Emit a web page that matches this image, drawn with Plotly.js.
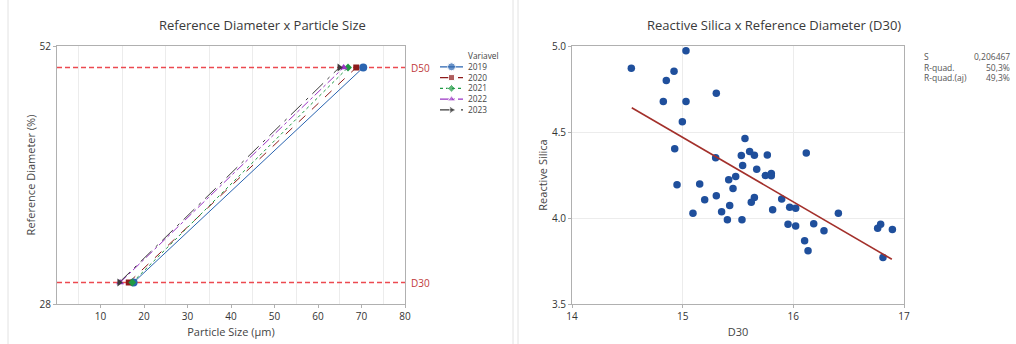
<!DOCTYPE html>
<html>
<head>
<meta charset="utf-8">
<script src="https://cdn.plot.ly/plotly-3.0.1.min.js"></script>
<style>html,body{margin:0;padding:0;background:#fff;}#chart{width:1016px;height:344px;}</style>
</head>
<body>
<div id="chart"></div>
<script>
// ---- Left chart data ----
const years = ['2019', '2020', '2021', '2022', '2023'];
const legendTitle = 'Variavel';
const refLevels = [30, 50];
const refLabels = ['D30', 'D50'];
const sizeRange = [0, 80];
const d30Size = [17.6, 16.5, 17.3, 14.5, 14.3];
const d50Size = [70.4, 68.8, 66.9, 65.9, 64.9];

// ---- Right chart data ----
const d30 = [14.536, 14.852, 14.922, 14.825, 15.030, 15.030, 14.997, 15.304, 14.928, 14.949,
             15.154, 15.199, 15.093, 15.298, 15.304, 15.352, 15.404, 15.425, 15.416, 15.455,
             15.479, 15.530, 15.542, 15.563, 15.605, 15.648, 15.669, 15.765, 15.747, 15.801,
             15.801, 15.648, 15.620, 15.536, 15.813, 15.895, 15.967, 16.021, 15.952, 16.021,
             16.117, 16.102, 16.133, 16.184, 16.277, 16.407, 16.762, 16.789, 16.895, 16.810];
const silica = [4.870, 4.799, 4.853, 4.677, 4.973, 4.677, 4.559, 4.725, 4.402, 4.193,
                4.197, 4.106, 4.028, 4.350, 4.130, 4.036, 3.990, 4.073, 4.222, 4.172,
                4.241, 4.363, 4.305, 4.462, 4.386, 4.365, 4.284, 4.367, 4.247, 4.259,
                4.245, 4.119, 4.092, 3.990, 4.048, 4.110, 4.063, 4.057, 3.963, 3.953,
                4.378, 3.868, 3.810, 3.967, 3.926, 4.028, 3.941, 3.964, 3.933, 3.771];
const fitX = [14.54, 16.89];
const fitY = [4.641, 3.760];
const statLabels = ['S', 'R-quad.', 'R-quad.(aj)'];
const statValues = ['0,206467', '50,3%', '49,3%'];

// ---- styles ----
const W = 1016, H = 344;
const px = v => v / W, py = v => 1 - v / H;
const FONT = 'Open Sans, Noto Sans, sans-serif';
const colors = ['#2a64b0', '#8e1b1b', '#1f9a44', '#9a35c4', '#3b3b3b'];
const dashes = ['solid', 'dash', 'dot', 'dashdot', 'longdashdot'];
const symbols = ['circle', 'square', 'diamond', 'triangle-up', 'triangle-right'];
const msizes = [8, 6, 6, 7, 7];
const LEG_FS = 8.3, LEG_LH = LEG_FS * 1.3;

const traces = [];
years.forEach((yr, i) => {
  traces.push({
    type: 'scatter', mode: 'lines', name: yr,
    x: [d30Size[i], d50Size[i]], y: refLevels.slice(),
    xaxis: 'x', yaxis: 'y', showlegend: false,
    line: {color: colors[i], width: 1, dash: dashes[i]}
  });
});
// reference lines D30 / D50
refLevels.forEach(v => traces.push({
  type: 'scatter', mode: 'lines', x: sizeRange.slice(), y: [v, v], xaxis: 'x', yaxis: 'y',
  showlegend: false, line: {color: '#ec4a50', width: 1.5, dash: '5px,3px'}
}));
// series markers on top
years.forEach((yr, i) => {
  traces.push({
    type: 'scatter', mode: 'markers', name: yr,
    x: [d30Size[i], d50Size[i]], y: refLevels.slice(),
    xaxis: 'x', yaxis: 'y', showlegend: false,
    marker: {color: colors[i], symbol: symbols[i], size: msizes[i]}
  });
  // compact legend glyph (index-based position on a hidden legend axis)
  traces.push({
    type: 'scatter', mode: 'lines+markers', name: yr,
    x: [0, 0.5, 1], y: [i, i, i], xaxis: 'x3', yaxis: 'y3', showlegend: false,
    line: {color: colors[i], width: 1.2, dash: dashes[i]},
    marker: {color: colors[i], symbol: symbols[i], size: [0, msizes[i], 0]}
  });
});

traces.push({
  type: 'scatter', mode: 'markers', x: d30, y: silica, xaxis: 'x2', yaxis: 'y2',
  showlegend: false, marker: {color: '#1f4f9c', size: 7.5}
});
traces.push({
  type: 'scatter', mode: 'lines', x: fitX, y: fitY, xaxis: 'x2', yaxis: 'y2',
  showlegend: false, line: {color: '#a3302b', width: 1.6}
});

const axisCommon = {
  showline: true, mirror: true, linecolor: '#b0b0b0', linewidth: 1,
  ticks: 'outside', ticklen: 3, tickcolor: '#b0b0b0', zeroline: false,
  tickfont: {family: FONT, size: 10, color: '#333'},
  gridcolor: '#ececec'
};

const shapes = [];
[8, 513, 518].forEach(x => shapes.push({
  type: 'line', xref: 'paper', yref: 'paper', x0: px(x), x1: px(x), y0: 0, y1: 1,
  line: {color: '#e2e2e2', width: 1}
}));

const annotations = refLevels.map((v, i) => ({
  xref: 'x domain', yref: 'y', x: 1.012, y: v, xanchor: 'left', yanchor: 'middle',
  text: refLabels[i], showarrow: false, font: {family: FONT, size: 10, color: '#c0393b'}
}));
statLabels.forEach((t, i) => {
  annotations.push({xref: 'paper', yref: 'paper', x: px(922), y: py(56 + i * 11), xanchor: 'left', yanchor: 'middle',
    text: t, showarrow: false, font: {family: FONT, size: 8.5, color: '#555'}});
  annotations.push({xref: 'paper', yref: 'paper', x: px(1012), y: py(56 + i * 11), xanchor: 'right', yanchor: 'middle',
    text: statValues[i], showarrow: false, font: {family: FONT, size: 8.5, color: '#555'}});
});
// legend text: title + years in one multi-line block
annotations.push({
  xref: 'paper', yref: 'paper', x: px(467), y: py(56 + LEG_LH * years.length / 2), xanchor: 'left', yanchor: 'middle',
  align: 'left', borderpad: 0, text: [legendTitle].concat(years).join('<br>'), showarrow: false,
  font: {family: FONT, size: LEG_FS, color: '#444'}
});
annotations.push({xref: 'paper', yref: 'paper', x: px(262), y: py(25), xanchor: 'center', yanchor: 'middle',
  text: 'Reference Diameter x Particle Size', showarrow: false, font: {family: FONT, size: 13, color: '#3a3a3a'}});
annotations.push({xref: 'paper', yref: 'paper', x: px(774), y: py(25), xanchor: 'center', yanchor: 'middle',
  text: 'Reactive Silica x Reference Diameter (D30)', showarrow: false, font: {family: FONT, size: 13, color: '#3a3a3a'}});

const hidden = {visible: false, fixedrange: true, showgrid: false, zeroline: false};
const legTop = 56 + LEG_LH * 0.5;

const layout = {
  width: W, height: H, margin: {l: 0, r: 0, t: 0, b: 0},
  paper_bgcolor: '#fff', plot_bgcolor: 'rgba(0,0,0,0)', font: {family: FONT, color: '#444'},
  showlegend: false,
  xaxis: Object.assign({}, axisCommon, {
    domain: [px(57), px(405)], range: sizeRange.slice(), tickvals: [10, 20, 30, 40, 50, 60, 70, 80],
    showgrid: false, minor: {tick0: 5, dtick: 10, showgrid: true, gridcolor: '#ececec', ticks: ''},
    title: {text: 'Particle Size (µm)', font: {family: FONT, size: 11, color: '#444'}, standoff: 6},
    anchor: 'y'
  }),
  yaxis: Object.assign({}, axisCommon, {
    domain: [py(304), py(46)], range: [28, 52], tickvals: [28, 52], showgrid: false,
    title: {text: 'Reference Diameter (%)', font: {family: FONT, size: 11, color: '#444'}, standoff: 1},
    anchor: 'x'
  }),
  xaxis2: Object.assign({}, axisCommon, {
    domain: [px(572), px(904)], range: [14, 17], tickvals: [14, 15, 16, 17], showgrid: true,
    title: {text: 'D30', font: {family: FONT, size: 11, color: '#444'}, standoff: 6},
    anchor: 'y2'
  }),
  yaxis2: Object.assign({}, axisCommon, {
    domain: [py(304), py(46)], range: [3.5, 5.0], tickvals: [3.5, 4.0, 4.5, 5.0], tickformat: '.1f', showgrid: true,
    title: {text: 'Reactive Silica', font: {family: FONT, size: 11, color: '#444'}, standoff: 2},
    anchor: 'x2'
  }),
  xaxis3: Object.assign({}, hidden, {domain: [px(440), px(463)], range: [0, 1], anchor: 'y3'}),
  yaxis3: Object.assign({}, hidden, {domain: [py(legTop + LEG_LH * years.length), py(legTop)], range: [years.length - 0.5, -0.5], anchor: 'x3'}),
  shapes: shapes, annotations: annotations
};

Plotly.newPlot('chart', traces, layout, {displayModeBar: false, staticPlot: true});
</script>
</body>
</html>
